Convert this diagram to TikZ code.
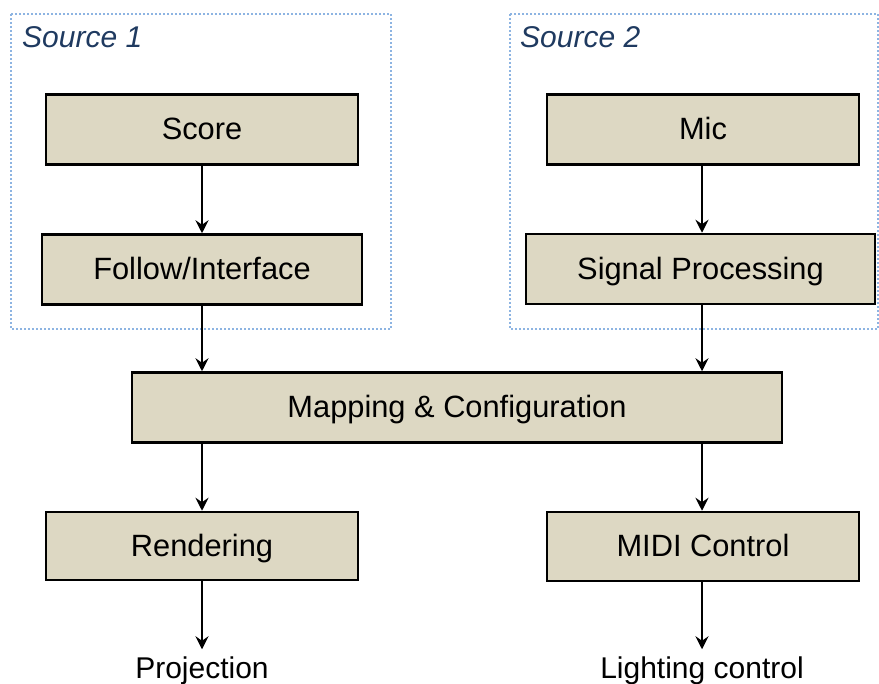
\documentclass[tikz,border=0pt]{standalone}
\usepackage{fontspec}
\setmainfont{Liberation Sans}
\usepackage{xcolor}
\usepackage{tikz}
\usetikzlibrary{arrows.meta}

\definecolor{boxfill}{RGB}{221,216,195}
\definecolor{framedot}{RGB}{141,180,226}
\definecolor{srcblue}{RGB}{31,58,96}

\begin{document}
\begin{tikzpicture}[x=1pt, y=-1pt,
    stage/.style={draw=black, line width=2.5pt, fill=boxfill,
      minimum width=312pt, minimum height=70pt, inner sep=0pt,
      text height=21pt, text depth=0pt,
      font=\fontsize{30.8}{36}\selectfont},
    outtext/.style={inner sep=0pt, outer sep=7pt,
      font=\fontsize{30}{36}\selectfont},
    srclabel/.style={anchor=base west, inner sep=0pt, srcblue,
      font=\fontsize{30}{36}\selectfont\itshape},
    groupframe/.style={framedot, line width=2.4pt, dash pattern=on 2pt off 2pt},
    flow/.style={line width=2pt, -{Stealth[length=13pt, width=13pt, inset=4.5pt]}}]
    \useasboundingbox (0,0) rectangle (879,684);

    % Source frames
    \draw[groupframe] (11,14) rectangle (391,329);
    \draw[groupframe] (510,14) rectangle (878,329);
    \node[srclabel] (srcone) at (22,48) {Source 1};
    \node[srclabel] (srctwo) at (520,48) {Source 2};

    % Processing stages
    \node[stage] (score) at (202,129.5) {Score};
    \node[stage, minimum width=320pt] (follow) at (202,269.5) {Follow/Interface};
    \node[stage] (mic) at (703,129.5) {Mic};
    \node[stage, minimum width=349pt] (signal) at (700.5,269) {Signal Processing};
    \node[stage, minimum width=650pt] (mapping) at (457,407.5) {Mapping \& Configuration};
    \node[stage, minimum height=68pt] (render) at (202,546) {Rendering};
    \node[stage, minimum height=69pt] (midi) at (703,546.5) {MIDI Control};

    % Outputs
    \node[outtext, anchor=base] (proj) at (202,678) {Projection};
    \node[outtext, anchor=base] (light) at (702,678) {Lighting control};

    % Connections
    \draw[flow] (score) -- (follow);
    \draw[flow] (mic.south -| light) -- (signal.north -| light);
    \draw[flow] (follow) -- (follow.south |- mapping.north);
    \draw[flow] (signal.south -| light) -- (mapping.north -| light);
    \draw[flow] (mapping.south -| render) -- (render);
    \draw[flow] (mapping.south -| light) -- (midi.north -| light);
    \draw[flow] (render) -- (proj);
    \draw[flow] (midi.south -| light) -- (light);
  \end{tikzpicture}
\end{document}
